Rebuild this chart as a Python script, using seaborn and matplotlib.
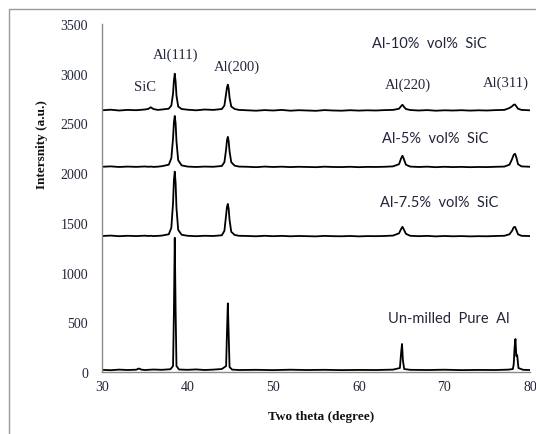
import matplotlib
matplotlib.use("Agg")
import matplotlib.pyplot as plt
from matplotlib.lines import Line2D
import seaborn as sns
import pandas as pd

# ---------------- data ----------------
theta_comp = ([30, 31, 32, 33, 34, 35, 35.4, 35.7, 36.0, 36.5] +
              [37, 37.8, 38.1, 38.3, 38.4, 38.5, 38.6, 38.7, 38.9, 39.3] +
              [40, 41, 42, 43, 44, 44.3, 44.5, 44.6, 44.7, 44.8, 44.9, 45.1, 45.5, 46] +
              [47, 48, 49, 50, 51, 52, 53, 54, 55, 56, 57, 58, 59, 60, 61, 62, 63, 64] +
              [64.7, 64.95, 65.1, 65.25, 65.5, 66] +
              [67, 68, 69, 70, 71, 72, 73, 74, 75, 76, 77] +
              [77.6, 77.9, 78.1, 78.25, 78.4, 78.6, 79, 80])

int_10 = ([2632, 2638, 2630, 2636, 2633, 2640, 2646, 2662, 2645, 2636] +
          [2640, 2648, 2680, 2800, 2930, 3000, 2920, 2780, 2670, 2645] +
          [2638, 2632, 2640, 2636, 2645, 2680, 2800, 2860, 2890, 2850, 2760, 2670, 2645, 2636] +
          [2632, 2628, 2634, 2630, 2636, 2628, 2633, 2630, 2627, 2634, 2630, 2628, 2633, 2629, 2632, 2630, 2634, 2636] +
          [2648, 2675, 2688, 2670, 2645, 2635] +
          [2630, 2634, 2628, 2632, 2630, 2633, 2629, 2632, 2630, 2634, 2636] +
          [2655, 2672, 2688, 2690, 2672, 2648, 2636, 2632])

int_5 = ([2064, 2068, 2062, 2066, 2063, 2067, 2064, 2066, 2063, 2065] +
         [2070, 2085, 2150, 2350, 2510, 2575, 2500, 2320, 2130, 2078] +
         [2066, 2062, 2066, 2064, 2072, 2110, 2240, 2330, 2365, 2320, 2220, 2110, 2075, 2066] +
         [2064, 2060, 2066, 2062, 2065, 2061, 2064, 2062, 2060, 2065, 2062, 2061, 2064, 2060, 2063, 2062, 2064, 2068] +
         [2090, 2150, 2175, 2145, 2085, 2066] +
         [2062, 2065, 2060, 2064, 2061, 2063, 2060, 2062, 2061, 2064, 2066] +
         [2085, 2140, 2185, 2195, 2160, 2090, 2068, 2064])

int_75 = ([1368, 1372, 1366, 1370, 1367, 1371, 1368, 1370, 1367, 1369] +
          [1372, 1385, 1450, 1700, 1930, 2015, 1900, 1650, 1430, 1380] +
          [1370, 1366, 1370, 1368, 1375, 1420, 1580, 1660, 1690, 1640, 1530, 1410, 1378, 1370] +
          [1368, 1365, 1370, 1366, 1369, 1365, 1368, 1366, 1364, 1369, 1366, 1365, 1368, 1364, 1367, 1366, 1368, 1372] +
          [1395, 1440, 1460, 1435, 1390, 1370] +
          [1366, 1369, 1364, 1368, 1365, 1367, 1364, 1366, 1365, 1368, 1370] +
          [1385, 1420, 1455, 1460, 1430, 1385, 1370, 1367])

theta_pure = [30, 31, 32, 33, 34, 34.3, 34.6, 35, 36, 37,
              38, 38.3, 38.4, 38.5, 38.6, 38.7, 39, 40, 41, 42,
              43, 44, 44.5, 44.6, 44.7, 44.8, 44.9, 45.2, 46, 48,
              50, 52, 54, 56, 58, 60, 62, 64, 64.8, 64.95,
              65.05, 65.15, 65.3, 66, 68, 70, 72, 74, 76, 77.5,
              78.0, 78.1, 78.2, 78.3, 78.4, 78.5, 78.65, 79.2, 80]
int_pure = [22, 18, 24, 20, 23, 35, 24, 20, 25, 22,
            28, 60, 600, 1350, 620, 60, 25, 22, 26, 20,
            24, 30, 60, 400, 690, 380, 50, 24, 20, 22,
            19, 23, 20, 22, 19, 21, 20, 24, 40, 200,
            282, 120, 30, 22, 20, 23, 19, 21, 20, 24,
            30, 80, 250, 332, 160, 170, 40, 22, 20]

series_labels = ["Al-10%  vol%  SiC", "Al-5%  vol%  SiC", "Al-7.5%  vol%  SiC", "Un-milled  Pure  Al"]
label_pos = [(68.3, 3310), (68.9, 2354), (69.4, 1712), (70.5, 540)]

peak_labels = ["SiC", "Al(111)", "Al(200)", "Al(220)", "Al(311)"]
peak_label_pos = [(35.0, 2867), (38.6, 3200), (45.8, 3078), (65.7, 2895), (77.2, 2915)]

x_ticks = [30, 40, 50, 60, 70, 80]
y_ticks = [0, 500, 1000, 1500, 2000, 2500, 3000, 3500]

# ---------------- table ----------------
frames = []
for name, xs, ys in [("10", theta_comp, int_10), ("5", theta_comp, int_5),
                     ("7.5", theta_comp, int_75), ("pure", theta_pure, int_pure)]:
    frames.append(pd.DataFrame({"theta": xs, "intensity": ys, "sample": name}))
df = pd.concat(frames, ignore_index=True)

# ---------------- plot ----------------
sns.set_style("white")
serif = ["Liberation Serif", "DejaVu Serif"]
sans = ["Lato", "Liberation Sans", "DejaVu Sans"]
plt.rcParams["font.family"] = serif
txt_col = "#23263a"

fig = plt.figure(figsize=(5.36, 4.35), dpi=100)
ax = fig.add_axes([102 / 536, 1 - 373 / 435, 428 / 536, 348 / 435])

for name in ["10", "5", "7.5", "pure"]:
    sub = df[df["sample"] == name]
    sns.lineplot(data=sub, x="theta", y="intensity", ax=ax, color="black",
                 linewidth=1.3, estimator=None, sort=False, legend=False)

ax.set_xlim(30, 80)
ax.set_ylim(0, 3500)
ax.set_xticks(x_ticks)
ax.set_yticks(y_ticks)
ax.set_xticklabels([str(v) for v in x_ticks], fontsize=10, color=txt_col)
ax.set_yticklabels([str(v) for v in y_ticks], fontsize=10, color=txt_col)
ax.tick_params(axis="both", length=0)
ax.tick_params(axis="y", pad=10)
ax.tick_params(axis="x", pad=6)

for s in ["top", "right"]:
    ax.spines[s].set_visible(False)
for s in ["left", "bottom"]:
    ax.spines[s].set_color("#8a8a8a")
    ax.spines[s].set_linewidth(1.0)

ax.set_xlabel("Two theta (degree)", fontsize=9.5, fontweight="bold", color="#111111")
ax.set_ylabel("Intersnity (a.u.)", fontsize=9.5, fontweight="bold", color="#111111")
ax.xaxis.set_label_coords(0.512, -0.109)
ax.yaxis.set_label_coords(-0.125, 0.655)

for t, (x, y) in zip(series_labels, label_pos):
    ax.text(x, y, t, fontsize=10.5, family=sans, color=txt_col, ha="center", va="center")
for t, (x, y) in zip(peak_labels, peak_label_pos):
    ax.text(x, y, t, fontsize=10.5, family=serif, color=txt_col, ha="center", va="center")

# outer frame (cropped figure border)
fy = 1 - 10 / 435
fx = 9 / 536
fig.add_artist(Line2D([fx, fx, 1.0], [0.0, fy, fy], transform=fig.transFigure,
                      color="#9a9a9a", linewidth=1.0))

fig.savefig("out.png", dpi=100)
